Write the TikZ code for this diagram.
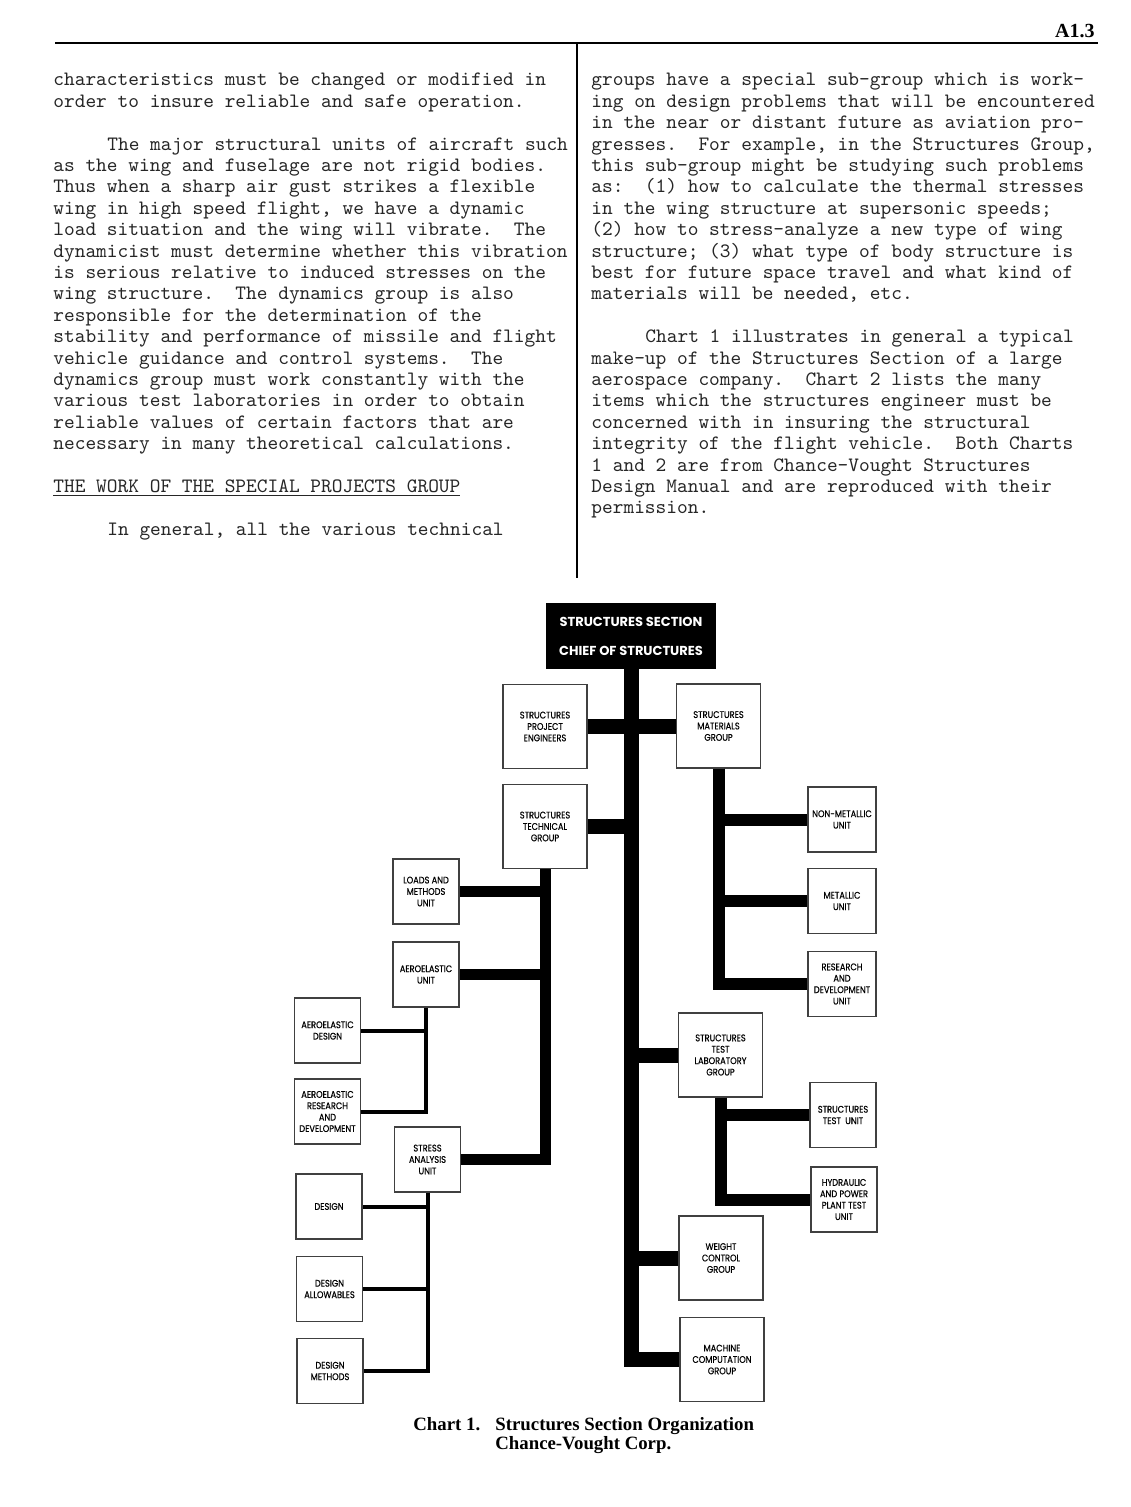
\documentclass[tikz,border=0pt]{standalone}
\usepackage{fontspec}
\newfontfamily\chartfont{Poppins}[FakeStretch=0.86, FakeBold=0.4]
\newfontfamily\headfont{Poppins}
\newfontfamily\capfont{Liberation Serif}
\tikzset{
  body/.style={anchor=base west, inner sep=0pt, text=black!85,
    font=\fontsize{10.2}{12}\selectfont\ttfamily\frenchspacing},
  box/.style={draw=black!75, line width=0.6pt, fill=white, inner sep=0pt,
    align=center, font=\chartfont\fontsize{4.8}{5.7}\selectfont},
  unitbox/.style={box, minimum width=33pt, minimum height=32.5pt},
  groupbox/.style={box, minimum width=42pt, minimum height=42pt},
  headbox/.style={fill=black, inner sep=0pt, minimum width=85pt, minimum height=33pt,
    align=center, text=white, font=\headfont\bfseries\fontsize{6.5}{14.5}\selectfont},
  trunkbar/.style={draw=black, line width=7.5pt, line join=miter},
  midbar/.style={draw=black, line width=6pt, line join=miter},
  techbar/.style={draw=black, line width=5.5pt, line join=miter},
  thinbar/.style={draw=black, line width=2pt, line join=miter},
  captext/.style={anchor=base west, inner sep=0pt, font=\capfont\bfseries\fontsize{9.4}{11}\selectfont}
}

\begin{document}
\begin{tikzpicture}[x=0.5pt, y=-0.5pt]
  \fill[white] (0,0) rectangle (1130,1507);

  % page head
  \draw[line width=1pt] (55,43) -- (1098,43);
  \node[inner sep=0pt, anchor=base east, font=\capfont\bfseries\fontsize{10}{12}\selectfont] (pageno) at (1095,38) {A1.3};
  \draw[line width=1pt] (577,43) -- (577,578);

  % left column
  \foreach \txt [count=\i from 0] in {
      {characteristics must be changed or modified in},
      {order to insure reliable and safe operation.}}
    \node[body] (la\i) at (53,{86+21.4*\i}) {\txt};
  \node[body] (lb0) at (107,{86+21.4*3}) {The major structural units of aircraft such};
  \foreach \txt [count=\i from 4] in {
      {as the wing and fuselage are not rigid bodies.},
      {Thus when a sharp air gust strikes a flexible},
      {wing in high speed flight, we have a dynamic},
      {load situation and the wing will vibrate.\ \ The},
      {dynamicist must determine whether this vibration},
      {is serious relative to induced stresses on the},
      {wing structure.\ \ The dynamics group is also},
      {responsible for the determination of the},
      {stability and performance of missile and flight},
      {vehicle guidance and control systems.\ \ The},
      {dynamics group must work constantly with the},
      {various test laboratories in order to obtain},
      {reliable values of certain factors that are},
      {necessary in many theoretical calculations.}}
    \node[body] (lb\i) at (53,{86+21.4*\i}) {\txt};
  \node[body] (lhead) at (53,{86+21.4*19}) {\underline{THE WORK OF THE SPECIAL PROJECTS GROUP}};
  \node[body] (lc0) at (107,{86+21.4*21}) {In general, all the various technical};

  % right column
  \foreach \txt [count=\i from 0] in {
      {groups have a special sub-group which is work-},
      {ing on design problems that will be encountered},
      {in the near or distant future as aviation pro-},
      {gresses.\ \ For example, in the Structures Group,},
      {this sub-group might be studying such problems},
      {as:\ \ (1) how to calculate the thermal stresses},
      {in the wing structure at supersonic speeds;},
      {(2) how to stress-analyze a new type of wing},
      {structure; (3) what type of body structure is},
      {best for future space travel and what kind of},
      {materials will be needed, etc.}}
    \node[body] (ra\i) at (591,{86+21.4*\i}) {\txt};
  \node[body] (rb0) at (645,{86+21.4*12}) {Chart 1 illustrates in general a typical};
  \foreach \txt [count=\i from 13] in {
      {make-up of the Structures Section of a large},
      {aerospace company.\ \ Chart 2 lists the many},
      {items which the structures engineer must be},
      {concerned with in insuring the structural},
      {integrity of the flight vehicle.\ \ Both Charts},
      {1 and 2 are from Chance-Vought Structures},
      {Design Manual and are reproduced with their},
      {permission.}}
    \node[body] (rb\i) at (591,{86+21.4*\i}) {\txt};

  % chart boxes
  \node[headbox] (head) at (631,636) {STRUCTURES SECTION\\CHIEF OF STRUCTURES};
  \node[groupbox] (proj) at (545,726.5) {STRUCTURES\\PROJECT\\ENGINEERS};
  \node[groupbox] (mat) at (718.5,726) {STRUCTURES\\MATERIALS\\GROUP};
  \node[groupbox] (tech) at (545,826.5) {STRUCTURES\\TECHNICAL\\GROUP};
  \node[unitbox, minimum width=34pt] (nonmet) at (842,819.5) {NON-METALLIC\\UNIT};
  \node[unitbox, minimum width=34pt] (met) at (842,901) {METALLIC\\UNIT};
  \node[unitbox, minimum width=34pt] (rdunit) at (842,984) {RESEARCH\\AND\\DEVELOPMENT\\UNIT};
  \node[unitbox] (loads) at (426,891.5) {LOADS AND\\METHODS\\UNIT};
  \node[unitbox] (aero) at (426,974.5) {AEROELASTIC\\UNIT};
  \node[unitbox] (aerodes) at (327.5,1030.5) {AEROELASTIC\\DESIGN};
  \node[unitbox] (aerord) at (327.5,1111.5) {AEROELASTIC\\RESEARCH\\AND\\DEVELOPMENT};
  \node[unitbox] (stress) at (427.5,1159.5) {STRESS\\ANALYSIS\\UNIT};
  \node[unitbox] (des) at (329,1206.5) {DESIGN};
  \node[unitbox] (desall) at (329.5,1289) {DESIGN\\ALLOWABLES};
  \node[unitbox] (desmeth) at (330,1371) {DESIGN\\METHODS};
  \node[groupbox] (testlab) at (720.5,1055) {STRUCTURES\\TEST\\LABORATORY\\GROUP};
  \node[unitbox] (testunit) at (843,1115) {STRUCTURES\\TEST\ \ UNIT};
  \node[unitbox] (hydr) at (844,1199.5) {HYDRAULIC\\AND POWER\\PLANT TEST\\UNIT};
  \node[groupbox] (weight) at (721,1258) {WEIGHT\\CONTROL\\GROUP};
  \node[groupbox] (machine) at (722,1359.5) {MACHINE\\COMPUTATION\\GROUP};

  % chart bars
  \draw[trunkbar] (head) |- (machine);
  \draw[trunkbar] (head) |- (proj);
  \draw[trunkbar] (head) |- (mat);
  \draw[trunkbar] (head) |- (tech);
  \draw[trunkbar] (head) |- (testlab);
  \draw[trunkbar] (head) |- (weight);

  \draw[midbar] (mat) |- (rdunit);
  \draw[midbar] (mat) |- (nonmet);
  \draw[midbar] (mat) |- (met);
  \draw[midbar] (testlab) |- (hydr);
  \draw[midbar] (testlab) |- (testunit);

  \draw[techbar] (tech) |- (stress);
  \draw[techbar] (tech) |- (loads);
  \draw[techbar] (tech) |- (aero);

  \draw[thinbar] (aero) |- (aerord);
  \draw[thinbar] (aero) |- (aerodes);
  \draw[thinbar] (stress) |- (desmeth);
  \draw[thinbar] (stress) |- (des);
  \draw[thinbar] (stress) |- (desall);

  % caption
  \node[captext] (cap1) at (413,1430) {Chart 1.};
  \node[captext] (cap2) at (495,1430) {Structures Section Organization};
  \node[captext] (cap3) at (495,1449) {Chance-Vought Corp.};
\end{tikzpicture}
\end{document}
